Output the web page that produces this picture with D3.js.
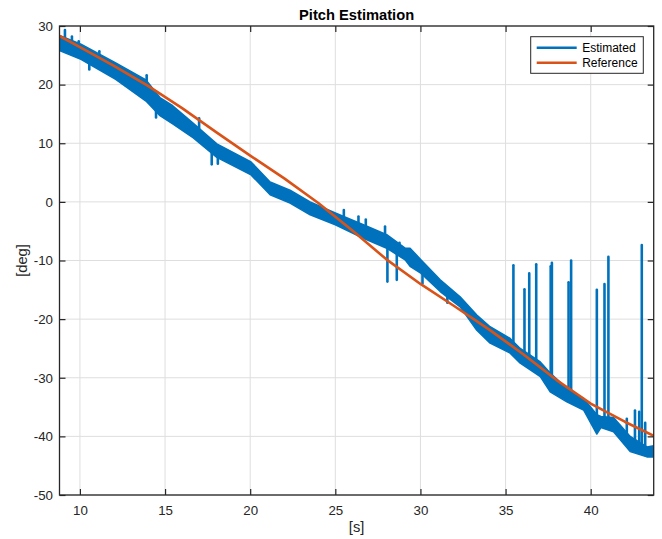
<!DOCTYPE html>
<html>
<head>
<meta charset="UTF-8">
<title>Pitch Estimation</title>
<script src="https://cdn.jsdelivr.net/npm/d3@7/dist/d3.min.js"></script>
<style>
  body { margin: 0; background: #fff; }
  svg { font-family: "Liberation Sans", Arial, Helvetica, sans-serif; }
  .grid line { stroke: #dedede; stroke-width: 1; }
  .tick-label { font-size: 13.3px; fill: #262626; }
</style>
</head>
<body>
<svg width="662" height="539"></svg>
<script>

// estimated signal: noisy band (upper / lower edge)
var bandT  = [8.8, 10.06, 12.1, 13.88, 14.7, 15.45, 16.66, 18.04, 20.05, 21.17, 22.34, 23.52, 25.0, 26.65, 28.02, 29.1, 29.39, 30.04, 31.16, 32.33, 33.31, 34.09, 35.27, 35.86, 37.04, 37.62, 38.6, 39.58, 40.36, 40.6, 41.34, 42.32, 43.3, 43.7];
var bandHi = [28.4, 26.9, 23.7, 20.8, 17.8, 16.4, 13.4, 9.9, 6.8, 3.4, 2.0, 0.0, -1.9, -3.9, -5.6, -7.9, -7.9, -9.9, -13.3, -16.2, -19.3, -21.3, -23.3, -25.0, -27.3, -29.2, -31.8, -33.5, -36.3, -36.6, -36.8, -40.0, -41.8, -41.6];
var bandLo = [25.8, 24.3, 20.9, 17.2, 14.7, 13.3, 10.9, 7.6, 4.6, 1.2, -0.2, -2.2, -3.9, -6.2, -7.9, -9.9, -11.0, -12.2, -15.3, -17.9, -21.9, -24.1, -25.8, -27.5, -29.8, -32.4, -34.1, -35.5, -39.6, -38.5, -39.2, -42.6, -43.5, -43.5];

// outlier samples of the estimate
var spikeT    = [9.12, 9.53, 9.93, 11.14, 13.92, 17.0, 25.5, 26.36, 26.79, 27.92, 28.77, 35.46, 36.11, 36.39, 36.8, 37.65, 37.72, 38.7, 38.85, 40.36, 40.81, 41.04, 42.12, 42.6, 42.85, 43.0, 43.2,
                 10.55, 14.47, 17.74, 18.1, 28.06, 28.61, 30.12, 31.58];
var spikeBase = [27.0, 26.5, 25.8, 24.0, 19.0, 12.0, -2.8, -4.5, -5.0, -6.5, -8.3, -25.5, -26.5, -27.0, -27.8, -30.0, -30.5, -33.0, -33.3, -37.5, -37.8, -38.0, -40.0, -41.0, -41.5, -42.0, -42.5,
                 24.5, 16.5, 9.5, 9.0, -7.0, -8.0, -11.0, -15.0];
var spikeTip  = [29.3, 28.2, 27.4, 25.7, 21.6, 14.25, -1.4, -2.5, -3.0, -4.2, -6.96, -10.8, -14.9, -12.2, -10.65, -11.0, -10.4, -13.7, -10.0, -15.0, -14.0, -9.35, -37.0, -35.6, -35.8, -7.35, -37.7,
                 22.6, 14.4, 6.4, 6.5, -13.6, -13.3, -13.9, -17.2];

// reference signal
var refT = [8.8, 10, 12, 14, 16, 18, 20, 22, 24, 26, 28, 30, 32, 34, 36, 38, 40, 42, 43.7];
var refV = [28.3, 26.4, 23.2, 19.8, 16.0, 11.9, 7.9, 4.0, -0.2, -4.9, -9.8, -14.0, -17.8, -21.7, -25.9, -30.4, -34.4, -37.5, -39.9];

var xTicks = [10, 15, 20, 25, 30, 35, 40];
var yTicks = [-50, -40, -30, -20, -10, 0, 10, 20, 30];
var seriesNames = ["Estimated", "Reference"];
var colors = ["#0072BD", "#D95319"];

var svg = d3.select("svg"),
    margin = {top: 26, right: 8.3, bottom: 44, left: 59.5},
    width = +svg.attr("width") - margin.left - margin.right,
    height = +svg.attr("height") - margin.top - margin.bottom;

var x = d3.scaleLinear().domain([8.8, 43.7]).range([0, width]),
    y = d3.scaleLinear().domain([-50, 30]).range([height, 0]);

var g = svg.append("g")
    .attr("transform", "translate(" + margin.left + "," + margin.top + ")");

svg.append("defs").append("clipPath").attr("id", "clip")
  .append("rect").attr("width", width).attr("height", height);

// grid
var grid = g.append("g").attr("class", "grid");
grid.selectAll(".gx").data(xTicks).enter().append("line")
    .attr("x1", function(d) { return x(d); }).attr("x2", function(d) { return x(d); })
    .attr("y1", 0).attr("y2", height);
grid.selectAll(".gy").data(yTicks).enter().append("line")
    .attr("y1", function(d) { return y(d); }).attr("y2", function(d) { return y(d); })
    .attr("x1", 0).attr("x2", width);

var plot = g.append("g").attr("clip-path", "url(#clip)");

// estimated band
var area = d3.area()
    .x(function(d, i) { return x(bandT[i]); })
    .y0(function(d, i) { return y(bandLo[i]); })
    .y1(function(d, i) { return y(bandHi[i]); });

plot.append("path")
    .datum(bandT)
    .attr("d", area)
    .attr("fill", colors[0])
    .attr("stroke", colors[0])
    .attr("stroke-width", 1.5)
    .attr("stroke-linejoin", "round");

plot.selectAll(".spike").data(spikeT).enter().append("line")
    .attr("class", "spike")
    .attr("x1", function(d) { return x(d); })
    .attr("x2", function(d) { return x(d); })
    .attr("y1", function(d, i) { return y(spikeBase[i]); })
    .attr("y2", function(d, i) { return y(spikeTip[i]); })
    .attr("stroke", colors[0])
    .attr("stroke-width", 2.6)
    .attr("stroke-linecap", "round");

// reference
var line = d3.line()
    .x(function(d, i) { return x(refT[i]); })
    .y(function(d, i) { return y(refV[i]); });

plot.append("path")
    .datum(refT)
    .attr("d", line)
    .attr("fill", "none")
    .attr("stroke", colors[1])
    .attr("stroke-width", 2.6)
    .attr("stroke-linejoin", "round");

// axes (box with inward ticks on every side)
var fmt = function(d) { return String(d); };
var axisColor = "#262626";

function styleAxis(sel) {
  sel.select(".domain").remove();
  sel.selectAll(".tick line").attr("stroke", axisColor).attr("stroke-width", 1.2);
  sel.selectAll(".tick text").attr("class", "tick-label").attr("font-family", null).attr("font-size", null);
}

g.append("g").attr("transform", "translate(0," + height + ")")
    .call(d3.axisBottom(x).tickValues(xTicks).tickFormat(fmt).tickSizeInner(-6).tickPadding(11))
    .call(styleAxis);
g.append("g")
    .call(d3.axisTop(x).tickValues(xTicks).tickFormat("").tickSizeInner(-6))
    .call(styleAxis);
g.append("g")
    .call(d3.axisLeft(y).tickValues(yTicks).tickFormat(fmt).tickSizeInner(-6).tickPadding(6.5))
    .call(styleAxis);
g.append("g").attr("transform", "translate(" + width + ",0)")
    .call(d3.axisRight(y).tickValues(yTicks).tickFormat("").tickSizeInner(-6))
    .call(styleAxis);

g.append("rect")
    .attr("width", width).attr("height", height)
    .attr("fill", "none").attr("stroke", axisColor).attr("stroke-width", 1.3);

// title and labels
svg.append("text")
    .attr("x", margin.left + width / 2).attr("y", 20)
    .attr("text-anchor", "middle")
    .attr("font-size", "14.7px").attr("font-weight", "bold").attr("fill", "#000")
    .text("Pitch Estimation");

svg.append("text")
    .attr("x", margin.left + width / 2).attr("y", 532)
    .attr("text-anchor", "middle")
    .attr("font-size", "14.7px").attr("fill", axisColor)
    .text("[s]");

svg.append("text")
    .attr("transform", "translate(27," + (margin.top + height / 2) + ") rotate(-90)")
    .attr("text-anchor", "middle")
    .attr("font-size", "14.7px").attr("fill", axisColor)
    .text("[deg]");

// legend
var legend = svg.append("g").attr("transform", "translate(530.7,36.7)");
legend.append("rect")
    .attr("width", 112.6).attr("height", 36.6)
    .attr("fill", "#fff").attr("stroke", axisColor).attr("stroke-width", 1);

var items = legend.selectAll(".item").data(seriesNames).enter().append("g")
    .attr("transform", function(d, i) { return "translate(0," + (11 + i * 15) + ")"; });
items.append("line")
    .attr("x1", 6).attr("x2", 46)
    .attr("stroke", function(d, i) { return colors[i]; })
    .attr("stroke-width", 2.6);
items.append("text")
    .attr("x", 51.5).attr("dy", "0.36em")
    .attr("font-size", "12px").attr("fill", "#000")
    .text(function(d) { return d; });

</script>
</body>
</html>
